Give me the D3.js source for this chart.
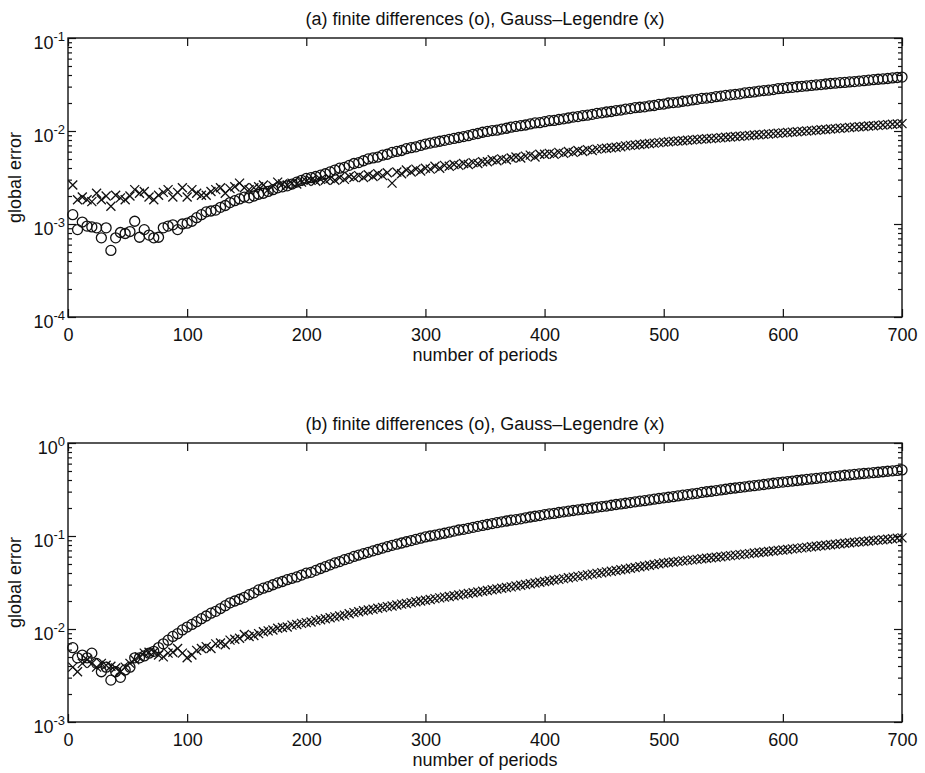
<!DOCTYPE html>
<html>
<head>
<meta charset="utf-8">
<script src="https://cdn.jsdelivr.net/npm/d3@7"></script>
<style>
  body { margin: 0; background: #fff; }
  text { font-family: "Liberation Sans", Arial, Helvetica, sans-serif; fill: #111; }
</style>
</head>
<body>
<div id="chart"></div>
<script>
// number of periods (one sample every 4 periods)
var periods = d3.range(4, 701, 4);

// (a) finite differences (o)
var fdA = [
  1.26e-3, 8.7e-4, 1.05e-3, 9.5e-4, 9.3e-4, 9.1e-4, 7.1e-4, 9.1e-4, 5.2e-4, 7.1e-4,
  8.1e-4, 7.9e-4, 8.3e-4, 1.07e-3, 7.2e-4, 8.7e-4, 7.6e-4, 7.1e-4, 7.2e-4, 9.1e-4,
  9.5e-4, 9.8e-4, 8.7e-4, 1.0e-3, 1.02e-3, 1.07e-3, 1.17e-3, 1.26e-3, 1.35e-3, 1.38e-3,
  1.41e-3, 1.51e-3, 1.58e-3, 1.70e-3, 1.78e-3, 1.86e-3, 1.95e-3, 1.91e-3, 2.0e-3, 2.09e-3,
  2.14e-3, 2.24e-3, 2.34e-3, 2.45e-3, 2.51e-3, 2.57e-3, 2.69e-3, 2.82e-3, 2.95e-3, 3.09e-3,
  3.16e-3, 3.24e-3, 3.35e-3, 3.47e-3, 3.63e-3, 3.80e-3, 3.98e-3, 4.07e-3, 4.27e-3, 4.47e-3,
  4.57e-3, 4.79e-3, 5.01e-3, 5.13e-3, 5.25e-3, 5.50e-3, 5.62e-3, 5.89e-3, 6.03e-3, 6.17e-3,
  6.46e-3, 6.61e-3, 6.76e-3, 7.0e-3, 7.24e-3, 7.41e-3, 7.59e-3, 7.76e-3, 7.94e-3, 8.13e-3,
  8.32e-3, 8.51e-3, 8.71e-3, 8.91e-3, 9.2e-3, 9.4e-3, 9.7e-3, 9.9e-3, 1.01e-2, 1.02e-2,
  1.05e-2, 1.07e-2, 1.10e-2, 1.12e-2, 1.14e-2, 1.16e-2, 1.19e-2, 1.22e-2, 1.23e-2, 1.26e-2,
  1.29e-2, 1.30e-2, 1.33e-2, 1.35e-2, 1.38e-2, 1.41e-2, 1.43e-2, 1.46e-2, 1.48e-2, 1.51e-2,
  1.55e-2, 1.57e-2, 1.60e-2, 1.62e-2, 1.66e-2, 1.68e-2, 1.72e-2, 1.74e-2, 1.78e-2, 1.80e-2,
  1.82e-2, 1.86e-2, 1.88e-2, 1.93e-2, 1.95e-2, 2.0e-2, 2.02e-2, 2.04e-2, 2.09e-2, 2.11e-2,
  2.16e-2, 2.19e-2, 2.24e-2, 2.26e-2, 2.29e-2, 2.34e-2, 2.37e-2, 2.42e-2, 2.45e-2, 2.48e-2,
  2.51e-2, 2.57e-2, 2.60e-2, 2.63e-2, 2.69e-2, 2.72e-2, 2.75e-2, 2.79e-2, 2.85e-2, 2.88e-2,
  2.92e-2, 2.95e-2, 2.99e-2, 3.02e-2, 3.05e-2, 3.09e-2, 3.13e-2, 3.16e-2, 3.20e-2, 3.24e-2,
  3.27e-2, 3.31e-2, 3.33e-2, 3.37e-2, 3.40e-2, 3.44e-2, 3.48e-2, 3.52e-2, 3.56e-2, 3.60e-2,
  3.63e-2, 3.67e-2, 3.72e-2, 3.76e-2, 3.80e-2
];

// (a) Gauss-Legendre (x)
var glA = [
  2.63e-3, 1.82e-3, 1.95e-3, 1.82e-3, 1.74e-3, 2.14e-3, 1.82e-3, 2.0e-3, 1.55e-3, 2.04e-3,
  1.91e-3, 1.82e-3, 2.0e-3, 2.34e-3, 2.14e-3, 2.24e-3, 1.95e-3, 1.82e-3, 2.04e-3, 2.19e-3,
  2.34e-3, 1.95e-3, 2.19e-3, 2.45e-3, 1.95e-3, 2.34e-3, 2.14e-3, 2.04e-3, 2.04e-3, 2.24e-3,
  2.34e-3, 2.45e-3, 2.14e-3, 2.40e-3, 2.51e-3, 2.75e-3, 2.45e-3, 2.34e-3, 2.45e-3, 2.51e-3,
  2.63e-3, 2.34e-3, 2.57e-3, 2.82e-3, 2.69e-3, 2.63e-3, 2.75e-3, 2.69e-3, 2.82e-3, 2.88e-3,
  2.95e-3, 2.88e-3, 3.02e-3, 2.95e-3, 3.09e-3, 2.95e-3, 3.16e-3, 3.02e-3, 3.24e-3, 3.16e-3,
  3.31e-3, 3.16e-3, 3.39e-3, 3.24e-3, 3.47e-3, 3.31e-3, 3.55e-3, 2.75e-3, 3.63e-3, 3.47e-3,
  3.80e-3, 3.63e-3, 3.89e-3, 3.72e-3, 3.98e-3, 3.89e-3, 4.17e-3, 3.98e-3, 4.27e-3, 4.17e-3,
  4.37e-3, 4.27e-3, 4.47e-3, 4.37e-3, 4.57e-3, 4.47e-3, 4.68e-3, 4.68e-3, 4.90e-3, 4.79e-3,
  5.01e-3, 4.90e-3, 5.13e-3, 5.25e-3, 5.13e-3, 5.37e-3, 5.50e-3, 5.25e-3, 5.62e-3, 5.62e-3,
  5.75e-3, 5.62e-3, 5.89e-3, 5.75e-3, 6.03e-3, 5.89e-3, 6.17e-3, 6.03e-3, 6.31e-3, 6.17e-3,
  6.38e-3, 6.46e-3, 6.53e-3, 6.61e-3, 6.68e-3, 6.76e-3, 6.92e-3, 7.0e-3, 7.08e-3, 7.16e-3,
  7.24e-3, 7.33e-3, 7.41e-3, 7.50e-3, 7.59e-3, 7.66e-3, 7.73e-3, 7.80e-3, 7.87e-3, 7.94e-3,
  8.02e-3, 8.09e-3, 8.17e-3, 8.24e-3, 8.32e-3, 8.39e-3, 8.47e-3, 8.55e-3, 8.63e-3, 8.71e-3,
  8.79e-3, 8.87e-3, 8.95e-3, 9.04e-3, 9.12e-3, 9.20e-3, 9.29e-3, 9.38e-3, 9.46e-3, 9.55e-3,
  9.64e-3, 9.73e-3, 9.82e-3, 9.91e-3, 1.00e-2, 1.01e-2, 1.02e-2, 1.03e-2, 1.04e-2, 1.05e-2,
  1.06e-2, 1.07e-2, 1.08e-2, 1.09e-2, 1.10e-2, 1.11e-2, 1.12e-2, 1.13e-2, 1.14e-2, 1.15e-2,
  1.16e-2, 1.17e-2, 1.18e-2, 1.19e-2, 1.20e-2
];

// (b) finite differences (o)
var fdB = [
  6.3e-3, 4.9e-3, 5.25e-3, 4.9e-3, 5.5e-3, 4.27e-3, 3.47e-3, 3.89e-3, 2.82e-3, 3.47e-3,
  3.02e-3, 3.63e-3, 3.89e-3, 4.9e-3, 4.9e-3, 5.13e-3, 5.5e-3, 5.75e-3, 6.31e-3, 6.92e-3,
  7.59e-3, 8.32e-3, 8.91e-3, 9.77e-3, 1.05e-2, 1.12e-2, 1.20e-2, 1.29e-2, 1.38e-2, 1.48e-2,
  1.55e-2, 1.66e-2, 1.78e-2, 1.91e-2, 2.0e-2, 2.09e-2, 2.19e-2, 2.34e-2, 2.45e-2, 2.63e-2,
  2.75e-2, 2.85e-2, 2.99e-2, 3.13e-2, 3.24e-2, 3.39e-2, 3.51e-2, 3.63e-2, 3.80e-2, 3.98e-2,
  4.07e-2, 4.27e-2, 4.47e-2, 4.68e-2, 4.90e-2, 5.13e-2, 5.31e-2, 5.56e-2, 5.75e-2, 6.03e-2,
  6.24e-2, 6.46e-2, 6.68e-2, 6.92e-2, 7.16e-2, 7.41e-2, 7.67e-2, 7.94e-2, 8.17e-2, 8.41e-2,
  8.67e-2, 8.93e-2, 9.20e-2, 9.48e-2, 9.77e-2, 0.100, 0.102, 0.105, 0.107, 0.110,
  0.113, 0.116, 0.118, 0.121, 0.124, 0.127, 0.130, 0.133, 0.136, 0.139,
  0.142, 0.145, 0.148, 0.150, 0.153, 0.157, 0.160, 0.163, 0.166, 0.170,
  0.173, 0.175, 0.179, 0.182, 0.185, 0.188, 0.191, 0.194, 0.197, 0.200,
  0.204, 0.207, 0.210, 0.214, 0.218, 0.221, 0.225, 0.229, 0.233, 0.237,
  0.240, 0.244, 0.249, 0.253, 0.257, 0.261, 0.265, 0.270, 0.275, 0.279,
  0.284, 0.288, 0.294, 0.299, 0.303, 0.308, 0.313, 0.318, 0.324, 0.328,
  0.333, 0.338, 0.343, 0.348, 0.353, 0.358, 0.364, 0.369, 0.375, 0.380,
  0.385, 0.390, 0.395, 0.400, 0.406, 0.411, 0.416, 0.422, 0.427, 0.433,
  0.438, 0.444, 0.450, 0.454, 0.459, 0.465, 0.470, 0.475, 0.480, 0.485,
  0.491, 0.497, 0.502, 0.507, 0.513
];

// (b) Gauss-Legendre (x)
var glB = [
  3.89e-3, 3.47e-3, 4.27e-3, 4.68e-3, 4.27e-3, 3.89e-3, 4.27e-3, 4.07e-3, 3.98e-3, 3.80e-3,
  3.47e-3, 3.89e-3, 4.27e-3, 4.68e-3, 5.01e-3, 5.50e-3, 5.62e-3, 5.62e-3, 5.25e-3, 5.01e-3,
  5.50e-3, 5.62e-3, 6.17e-3, 5.50e-3, 4.90e-3, 5.25e-3, 5.89e-3, 6.17e-3, 6.46e-3, 6.17e-3,
  6.92e-3, 7.08e-3, 6.76e-3, 7.59e-3, 7.76e-3, 7.94e-3, 8.71e-3, 8.32e-3, 8.51e-3, 8.91e-3,
  9.33e-3, 9.55e-3, 9.77e-3, 1.02e-2, 1.04e-2, 1.05e-2, 1.10e-2, 1.12e-2, 1.15e-2, 1.17e-2,
  1.19e-2, 1.23e-2, 1.26e-2, 1.29e-2, 1.32e-2, 1.35e-2, 1.38e-2, 1.41e-2, 1.46e-2, 1.50e-2,
  1.53e-2, 1.57e-2, 1.60e-2, 1.63e-2, 1.67e-2, 1.70e-2, 1.74e-2, 1.77e-2, 1.81e-2, 1.85e-2,
  1.88e-2, 1.92e-2, 1.96e-2, 2.00e-2, 2.04e-2, 2.08e-2, 2.12e-2, 2.16e-2, 2.20e-2, 2.24e-2,
  2.28e-2, 2.32e-2, 2.37e-2, 2.41e-2, 2.45e-2, 2.50e-2, 2.55e-2, 2.59e-2, 2.64e-2, 2.69e-2,
  2.74e-2, 2.79e-2, 2.84e-2, 2.90e-2, 2.95e-2, 3.01e-2, 3.06e-2, 3.12e-2, 3.18e-2, 3.24e-2,
  3.30e-2, 3.36e-2, 3.42e-2, 3.48e-2, 3.55e-2, 3.61e-2, 3.68e-2, 3.75e-2, 3.82e-2, 3.89e-2,
  3.96e-2, 4.03e-2, 4.11e-2, 4.18e-2, 4.26e-2, 4.34e-2, 4.42e-2, 4.50e-2, 4.59e-2, 4.67e-2,
  4.76e-2, 4.85e-2, 4.94e-2, 5.03e-2, 5.13e-2, 5.19e-2, 5.26e-2, 5.33e-2, 5.40e-2, 5.47e-2,
  5.54e-2, 5.61e-2, 5.69e-2, 5.76e-2, 5.84e-2, 5.91e-2, 5.99e-2, 6.07e-2, 6.15e-2, 6.23e-2,
  6.31e-2, 6.39e-2, 6.47e-2, 6.56e-2, 6.64e-2, 6.73e-2, 6.82e-2, 6.91e-2, 7.00e-2, 7.08e-2,
  7.17e-2, 7.27e-2, 7.36e-2, 7.46e-2, 7.55e-2, 7.65e-2, 7.75e-2, 7.85e-2, 7.95e-2, 8.06e-2,
  8.16e-2, 8.27e-2, 8.36e-2, 8.45e-2, 8.55e-2, 8.64e-2, 8.74e-2, 8.83e-2, 8.93e-2, 9.03e-2,
  9.13e-2, 9.23e-2, 9.33e-2, 9.44e-2, 9.55e-2
];

// tick labels
var xTicks = [0, 100, 200, 300, 400, 500, 600, 700];
var yDecadesA = [-4, -3, -2, -1];
var yDecadesB = [-3, -2, -1, 0];
var titles = ["(a) finite differences (o), Gauss\u2013Legendre (x)",
              "(b) finite differences (o), Gauss\u2013Legendre (x)"];
var xLabel = "number of periods";
var yLabel = "global error";

// layout
var width = 925, height = 773;
var left = 68, right = 902;
var panelTops = [38, 443], panelH = 279;

var svg = d3.select("#chart").append("svg")
  .attr("width", width)
  .attr("height", height);

var x = d3.scaleLinear().domain([0, 700]).range([left, right]);

function drawPanel(i, fd, gl, decades) {
  var top = panelTops[i], bottom = top + panelH;
  var y = d3.scaleLog()
    .domain([Math.pow(10, decades[0]), Math.pow(10, decades[decades.length - 1])])
    .range([bottom, top]);

  var g = svg.append("g");

  // minor log ticks
  var minor = [];
  decades.slice(0, -1).forEach(function(e) {
    for (var k = 2; k < 10; k++) minor.push(k * Math.pow(10, e));
  });
  var major = decades.map(function(e) { return Math.pow(10, e); });

  g.append("g").attr("transform", "translate(0," + bottom + ")")
    .call(d3.axisBottom(x).tickValues(xTicks).tickSize(-8).tickSizeOuter(0).tickPadding(11));
  g.append("g").attr("transform", "translate(0," + top + ")")
    .call(d3.axisTop(x).tickValues(xTicks).tickSize(-8).tickSizeOuter(0).tickFormat(""));
  g.append("g").attr("transform", "translate(" + left + ",0)")
    .call(d3.axisLeft(y).tickValues(major).tickSize(-8).tickSizeOuter(0).tickFormat(""));
  g.append("g").attr("transform", "translate(" + left + ",0)")
    .call(d3.axisLeft(y).tickValues(minor).tickSize(-4).tickSizeOuter(0).tickFormat(""));
  g.append("g").attr("transform", "translate(" + right + ",0)")
    .call(d3.axisRight(y).tickValues(major).tickSize(-8).tickSizeOuter(0).tickFormat(""));
  g.append("g").attr("transform", "translate(" + right + ",0)")
    .call(d3.axisRight(y).tickValues(minor).tickSize(-4).tickSizeOuter(0).tickFormat(""));

  g.selectAll(".domain").remove();
  g.selectAll(".tick line").attr("stroke", "#111").attr("stroke-width", 1.2);
  g.selectAll(".tick text").attr("font-size", 18).attr("font-family", null).attr("fill", "#111");

  // frame
  g.append("rect")
    .attr("x", left).attr("y", top)
    .attr("width", right - left).attr("height", panelH)
    .attr("fill", "none").attr("stroke", "#111").attr("stroke-width", 1.4);

  // y tick labels 10^n
  decades.forEach(function(e) {
    var t = g.append("text")
      .attr("x", left - 3)
      .attr("y", y(Math.pow(10, e)) + 11)
      .attr("text-anchor", "end")
      .attr("font-size", 18);
    t.append("tspan").text("10");
    t.append("tspan").attr("dy", -8).attr("font-size", 13).text(e < 0 ? "-" + (-e) : String(e));
  });

  // title and labels
  g.append("text")
    .attr("x", (left + right) / 2).attr("y", top - 13)
    .attr("text-anchor", "middle").attr("font-size", 18)
    .text(titles[i]);
  g.append("text")
    .attr("x", (left + right) / 2).attr("y", bottom + 44)
    .attr("text-anchor", "middle").attr("font-size", 18)
    .text(xLabel);
  g.append("text")
    .attr("transform", "translate(21," + ((top + bottom) / 2) + ") rotate(-90)")
    .attr("text-anchor", "middle").attr("font-size", 18)
    .text(yLabel);

  // finite differences: circles
  g.append("g").selectAll("circle")
    .data(periods.map(function(p, j) { return [p, fd[j]]; }))
    .enter().append("circle")
    .attr("cx", function(d) { return x(d[0]); })
    .attr("cy", function(d) { return y(d[1]); })
    .attr("r", 5)
    .attr("fill", "none").attr("stroke", "#111").attr("stroke-width", 1.3);

  // Gauss-Legendre: crosses
  g.append("g").selectAll("path")
    .data(periods.map(function(p, j) { return [p, gl[j]]; }))
    .enter().append("path")
    .attr("transform", function(d) { return "translate(" + x(d[0]) + "," + y(d[1]) + ")"; })
    .attr("d", "M-4.5,-4.5L4.5,4.5M-4.5,4.5L4.5,-4.5")
    .attr("fill", "none").attr("stroke", "#111").attr("stroke-width", 1.3);
}

drawPanel(0, fdA, glA, yDecadesA);
drawPanel(1, fdB, glB, yDecadesB);
</script>
</body>
</html>
